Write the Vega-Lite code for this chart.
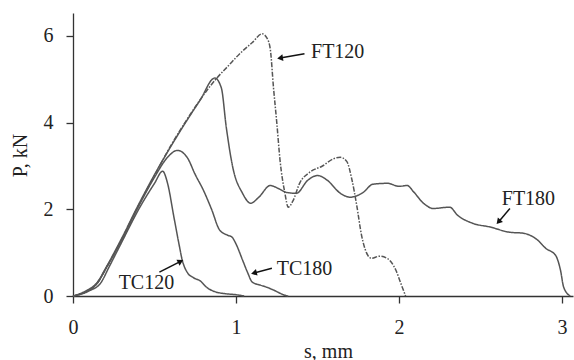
{
  "$schema": "https://vega.github.io/schema/vega-lite/v6.json",
  "width": 500,
  "height": 283,
  "autosize": "none",
  "padding": {"left": 73, "top": 13, "right": 1, "bottom": 64},
  "background": "white",
  "config": {"view": {"stroke": null}},
  "datasets": {
    "curves": [
      {"series": "FT120", "s": 0, "P": 0}, {"series": "FT120", "s": 0.08, "P": 0.1}, {"series": "FT120", "s": 0.15, "P": 0.3}, {"series": "FT120", "s": 0.2, "P": 0.62}, {"series": "FT120", "s": 0.3, "P": 1.32}, {"series": "FT120", "s": 0.39, "P": 2.0}, {"series": "FT120", "s": 0.5, "P": 2.78}, {"series": "FT120", "s": 0.6, "P": 3.47}, {"series": "FT120", "s": 0.69, "P": 4.02}, {"series": "FT120", "s": 0.78, "P": 4.53}, {"series": "FT120", "s": 0.88, "P": 5.02}, {"series": "FT120", "s": 0.95, "P": 5.3}, {"series": "FT120", "s": 1.02, "P": 5.58}, {"series": "FT120", "s": 1.1, "P": 5.85}, {"series": "FT120", "s": 1.16, "P": 6.05}, {"series": "FT120", "s": 1.19, "P": 5.95}, {"series": "FT120", "s": 1.21, "P": 5.7}, {"series": "FT120", "s": 1.23, "P": 4.8}, {"series": "FT120", "s": 1.25, "P": 4.0}, {"series": "FT120", "s": 1.27, "P": 3.13}, {"series": "FT120", "s": 1.3, "P": 2.37}, {"series": "FT120", "s": 1.32, "P": 2.05}, {"series": "FT120", "s": 1.35, "P": 2.2}, {"series": "FT120", "s": 1.39, "P": 2.6}, {"series": "FT120", "s": 1.45, "P": 2.85}, {"series": "FT120", "s": 1.53, "P": 3.0}, {"series": "FT120", "s": 1.6, "P": 3.17}, {"series": "FT120", "s": 1.64, "P": 3.2}, {"series": "FT120", "s": 1.68, "P": 3.1}, {"series": "FT120", "s": 1.71, "P": 2.7}, {"series": "FT120", "s": 1.74, "P": 2.1}, {"series": "FT120", "s": 1.77, "P": 1.4}, {"series": "FT120", "s": 1.8, "P": 1.0}, {"series": "FT120", "s": 1.83, "P": 0.87}, {"series": "FT120", "s": 1.88, "P": 0.92}, {"series": "FT120", "s": 1.93, "P": 0.86}, {"series": "FT120", "s": 1.98, "P": 0.6}, {"series": "FT120", "s": 2.01, "P": 0.3}, {"series": "FT120", "s": 2.04, "P": 0},
      {"series": "FT180", "s": 0, "P": 0}, {"series": "FT180", "s": 0.08, "P": 0.12}, {"series": "FT180", "s": 0.15, "P": 0.32}, {"series": "FT180", "s": 0.2, "P": 0.64}, {"series": "FT180", "s": 0.3, "P": 1.34}, {"series": "FT180", "s": 0.39, "P": 2.02}, {"series": "FT180", "s": 0.5, "P": 2.8}, {"series": "FT180", "s": 0.6, "P": 3.45}, {"series": "FT180", "s": 0.69, "P": 4.0}, {"series": "FT180", "s": 0.78, "P": 4.52}, {"series": "FT180", "s": 0.87, "P": 5.03}, {"series": "FT180", "s": 0.91, "P": 4.8}, {"series": "FT180", "s": 0.94, "P": 3.9}, {"series": "FT180", "s": 0.98, "P": 2.97}, {"series": "FT180", "s": 1.04, "P": 2.37}, {"series": "FT180", "s": 1.09, "P": 2.14}, {"series": "FT180", "s": 1.14, "P": 2.28}, {"series": "FT180", "s": 1.21, "P": 2.55}, {"series": "FT180", "s": 1.26, "P": 2.48}, {"series": "FT180", "s": 1.31, "P": 2.39}, {"series": "FT180", "s": 1.37, "P": 2.37}, {"series": "FT180", "s": 1.44, "P": 2.67}, {"series": "FT180", "s": 1.5, "P": 2.78}, {"series": "FT180", "s": 1.56, "P": 2.67}, {"series": "FT180", "s": 1.64, "P": 2.37}, {"series": "FT180", "s": 1.7, "P": 2.28}, {"series": "FT180", "s": 1.78, "P": 2.39}, {"series": "FT180", "s": 1.84, "P": 2.58}, {"series": "FT180", "s": 1.93, "P": 2.6}, {"series": "FT180", "s": 2.0, "P": 2.53}, {"series": "FT180", "s": 2.05, "P": 2.55}, {"series": "FT180", "s": 2.09, "P": 2.4}, {"series": "FT180", "s": 2.15, "P": 2.14}, {"series": "FT180", "s": 2.21, "P": 2.02}, {"series": "FT180", "s": 2.31, "P": 2.05}, {"series": "FT180", "s": 2.36, "P": 1.86}, {"series": "FT180", "s": 2.45, "P": 1.68}, {"series": "FT180", "s": 2.56, "P": 1.59}, {"series": "FT180", "s": 2.68, "P": 1.47}, {"series": "FT180", "s": 2.76, "P": 1.45}, {"series": "FT180", "s": 2.85, "P": 1.29}, {"series": "FT180", "s": 2.9, "P": 1.1}, {"series": "FT180", "s": 2.96, "P": 0.94}, {"series": "FT180", "s": 2.99, "P": 0.6}, {"series": "FT180", "s": 3.01, "P": 0.2}, {"series": "FT180", "s": 3.05, "P": 0},
      {"series": "TC120", "s": 0, "P": 0}, {"series": "TC120", "s": 0.1, "P": 0.12}, {"series": "TC120", "s": 0.17, "P": 0.3}, {"series": "TC120", "s": 0.22, "P": 0.66}, {"series": "TC120", "s": 0.3, "P": 1.25}, {"series": "TC120", "s": 0.4, "P": 1.98}, {"series": "TC120", "s": 0.5, "P": 2.6}, {"series": "TC120", "s": 0.55, "P": 2.88}, {"series": "TC120", "s": 0.58, "P": 2.6}, {"series": "TC120", "s": 0.62, "P": 1.8}, {"series": "TC120", "s": 0.65, "P": 1.2}, {"series": "TC120", "s": 0.67, "P": 0.83}, {"series": "TC120", "s": 0.7, "P": 0.55}, {"series": "TC120", "s": 0.74, "P": 0.42}, {"series": "TC120", "s": 0.78, "P": 0.35}, {"series": "TC120", "s": 0.82, "P": 0.2}, {"series": "TC120", "s": 0.87, "P": 0.1}, {"series": "TC120", "s": 0.92, "P": 0.06}, {"series": "TC120", "s": 1.0, "P": 0.03}, {"series": "TC120", "s": 1.05, "P": 0},
      {"series": "TC180", "s": 0, "P": 0}, {"series": "TC180", "s": 0.08, "P": 0.1}, {"series": "TC180", "s": 0.15, "P": 0.3}, {"series": "TC180", "s": 0.2, "P": 0.62}, {"series": "TC180", "s": 0.3, "P": 1.3}, {"series": "TC180", "s": 0.39, "P": 1.98}, {"series": "TC180", "s": 0.5, "P": 2.74}, {"series": "TC180", "s": 0.58, "P": 3.2}, {"series": "TC180", "s": 0.64, "P": 3.36}, {"series": "TC180", "s": 0.7, "P": 3.2}, {"series": "TC180", "s": 0.75, "P": 2.8}, {"series": "TC180", "s": 0.8, "P": 2.44}, {"series": "TC180", "s": 0.85, "P": 2.0}, {"series": "TC180", "s": 0.9, "P": 1.52}, {"series": "TC180", "s": 0.95, "P": 1.4}, {"series": "TC180", "s": 0.975, "P": 1.36}, {"series": "TC180", "s": 1.0, "P": 1.2}, {"series": "TC180", "s": 1.04, "P": 0.83}, {"series": "TC180", "s": 1.07, "P": 0.55}, {"series": "TC180", "s": 1.1, "P": 0.32}, {"series": "TC180", "s": 1.15, "P": 0.25}, {"series": "TC180", "s": 1.19, "P": 0.2}, {"series": "TC180", "s": 1.24, "P": 0.12}, {"series": "TC180", "s": 1.29, "P": 0.03}, {"series": "TC180", "s": 1.32, "P": 0}
    ],
    "notes": [
      {"label": "FT120", "tx": 1.46, "ty": 5.63, "x1": 1.42, "y1": 5.59, "x2": 1.27, "y2": 5.49},
      {"label": "FT180", "tx": 2.63, "ty": 2.23, "x1": 2.68, "y1": 2.02, "x2": 2.61, "y2": 1.71},
      {"label": "TC120", "tx": 0.28, "ty": 0.3, "x1": 0.53, "y1": 0.55, "x2": 0.66, "y2": 0.8},
      {"label": "TC180", "tx": 1.25, "ty": 0.62, "x1": 1.22, "y1": 0.64, "x2": 1.11, "y2": 0.53}
    ]
  },
  "layer": [
    {
      "data": {"name": "curves"},
      "mark": {"type": "line", "strokeWidth": 1.5, "color": "#555", "interpolate": "monotone"},
      "encoding": {
        "x": {"field": "s", "type": "quantitative", "scale": {"domain": [0, 3.067], "nice": false, "zero": false},
          "axis": {"values": [0, 1, 2, 3], "format": "d", "grid": false, "tickSize": 7, "labelPadding": 14, "labelFont": "Liberation Serif", "labelFontSize": 20, "labelColor": "#222", "domainColor": "#333", "tickColor": "#333", "domainWidth": 1.3, "tickWidth": 1.3, "labelFlush": false,
            "title": "s, mm", "titleFont": "Liberation Serif", "titleFontSize": 20, "titleFontWeight": "normal", "titleColor": "#222", "titleX": 255, "titleY": 61, "titleBaseline": "alphabetic", "titleAlign": "center"}},
        "y": {"field": "P", "type": "quantitative", "scale": {"domain": [0, 6.53], "nice": false},
          "axis": {"values": [0, 2, 4, 6], "format": "d", "grid": false, "tickSize": 7, "labelPadding": 13, "labelFont": "Liberation Serif", "labelFontSize": 20, "labelColor": "#222", "domainColor": "#333", "tickColor": "#333", "domainWidth": 1.3, "tickWidth": 1.3, "labelFlush": false,
            "title": "P, kN", "titleFont": "Liberation Serif", "titleFontSize": 20, "titleFontWeight": "normal", "titleColor": "#222", "titleX": -53, "titleY": 142, "titleBaseline": "middle", "titleAngle": -90, "titleAlign": "center"}},
        "detail": {"field": "series"},
        "strokeDash": {"field": "series", "type": "nominal", "scale": {"domain": ["FT120", "FT180", "TC120", "TC180"], "range": [[5, 1.5, 1.5, 1.5], [1, 0], [1, 0], [1, 0]]}, "legend": null}
      }
    },
    {
      "data": {"name": "notes"},
      "mark": {"type": "rule", "color": "#111", "strokeWidth": 1.5},
      "encoding": {
        "x": {"field": "x1", "type": "quantitative"},
        "y": {"field": "y1", "type": "quantitative"},
        "x2": {"field": "x2"},
        "y2": {"field": "y2"}
      }
    },
    {
      "data": {"name": "notes"},
      "transform": [{"filter": "datum.label === 'FT120'"}],
      "mark": {"type": "point", "shape": "triangle-up", "filled": true, "color": "#111", "opacity": 1, "size": 45, "angle": 261},
      "encoding": {"x": {"field": "x2", "type": "quantitative"}, "y": {"field": "y2", "type": "quantitative"}}
    },
    {
      "data": {"name": "notes"},
      "transform": [{"filter": "datum.label === 'FT180'"}],
      "mark": {"type": "point", "shape": "triangle-up", "filled": true, "color": "#111", "opacity": 1, "size": 45, "angle": 221},
      "encoding": {"x": {"field": "x2", "type": "quantitative"}, "y": {"field": "y2", "type": "quantitative"}}
    },
    {
      "data": {"name": "notes"},
      "transform": [{"filter": "datum.label === 'TC120'"}],
      "mark": {"type": "point", "shape": "triangle-up", "filled": true, "color": "#111", "opacity": 1, "size": 45, "angle": 62},
      "encoding": {"x": {"field": "x2", "type": "quantitative"}, "y": {"field": "y2", "type": "quantitative"}}
    },
    {
      "data": {"name": "notes"},
      "transform": [{"filter": "datum.label === 'TC180'"}],
      "mark": {"type": "point", "shape": "triangle-up", "filled": true, "color": "#111", "opacity": 1, "size": 45, "angle": 256},
      "encoding": {"x": {"field": "x2", "type": "quantitative"}, "y": {"field": "y2", "type": "quantitative"}}
    },
    {
      "data": {"name": "notes"},
      "mark": {"type": "text", "align": "left", "baseline": "middle", "font": "Liberation Serif", "fontSize": 20, "color": "#222"},
      "encoding": {
        "x": {"field": "tx", "type": "quantitative"},
        "y": {"field": "ty", "type": "quantitative"},
        "text": {"field": "label"}
      }
    }
  ]
}
